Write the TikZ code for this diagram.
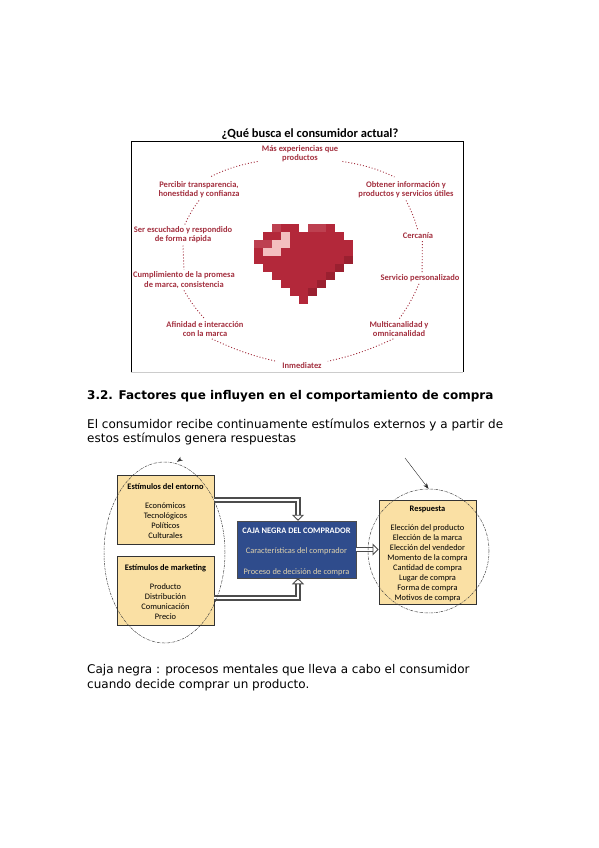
\documentclass[tikz,border=0pt]{standalone}
\usepackage{fontspec}
\setmainfont{DejaVu Sans}
\newfontfamily\carlito{Carlito}
\usepackage{xcolor}
\usetikzlibrary{positioning, arrows.meta, shapes.geometric}
\definecolor{rojotxt}{HTML}{A3303F}
\definecolor{rojocor}{HTML}{B3283A}
\definecolor{rojoclaro}{HTML}{BD4050}
\definecolor{rojooscuro}{HTML}{9A2030}
\definecolor{rosacor}{HTML}{F3BFBF}
\definecolor{crema}{HTML}{FAE0A4}
\definecolor{azulcaja}{HTML}{2F4C8C}
\definecolor{cremaclaro}{HTML}{DDD0AC}
\newcommand{\titulocaja}[1]{\rule{0pt}{10pt}\textbf{#1}}
\tikzset{
	>={Stealth[length=2mm]},
	% texto del documento
	parrafo/.style={anchor=west, align=left, inner sep=0pt, font=\fontsize{12}{14.5}\selectfont},
	% etiqueta alrededor del corazon
	deseo/.style={align=center, inner sep=2pt, text=rojotxt, font=\carlito\bfseries\fontsize{8.5}{9.3}\selectfont},
	% union punteada entre etiquetas
	punteado/.style={rojotxt, line width=.9pt, dash pattern=on 1pt off 2pt},
	% caja de estimulos o respuesta
	caja/.style={draw=black!80, line width=.9pt, fill=crema, inner sep=0pt, align=center, minimum width=97pt,
	             font=\carlito\fontsize{8.4}{10}\selectfont},
	% caja central
	cajanegra/.style={draw=black!70, line width=.5pt, fill=azulcaja, inner sep=0pt, align=center,
	                  minimum width=119pt, minimum height=57pt, text=cremaclaro,
	                  font=\carlito\fontsize{8.4}{10}\selectfont},
	% flecha hueca
	hueca/.style={draw=black!70, line width=1.2pt, double=white, double distance=2.8pt,
	              -{Triangle[open, fill=white, length=6pt, width=12pt, line width=.9pt]}},
	% ovalo a mano
	ovalo/.style={draw=black!75, ellipse, line width=.5pt, dash pattern=on 2.5pt off 1pt on .6pt off 1pt},
}
\begin{document}
\begin{tikzpicture}[x=1pt, y=-1pt]
    \useasboundingbox (0,0) rectangle (599,848);
    % primera figura
    \node[font=\carlito\bfseries\fontsize{12.5}{14}\selectfont, inner sep=0pt] (titulo) at (310,134.5) {¿Qué busca el consumidor actual?};
    \draw[black, line width=.7pt] (131,372) -- (131,141) -- (463,141) -- (463,372);
    \draw[black!20, line width=.7pt] (131,372) -- (463,372);
    \node[deseo] (mas) at (300,154) {Más experiencias que\\ productos};
    \node[deseo] (obtener) at (406,190) {Obtener información y\\ productos y servicios útiles};
    \node[deseo] (percibir) at (199,190) {Percibir transparencia,\\ honestidad y confianza};
    \node[deseo] (ser) at (183,235) {Ser escuchado y respondido\\ de forma rápida};
    \node[deseo] (cercania) at (418,236) {Cercanía};
    \node[deseo] (cumplimiento) at (184,280) {Cumplimiento de  la promesa\\ de marca, consistencia};
    \node[deseo] (servicio) at (420,278) {Servicio personalizado};
    \node[deseo] (afinidad) at (205,329) {Afinidad e interacción\\ con la marca};
    \node[deseo] (multi) at (399,329) {Multicanalidad y\\ omnicanalidad};
    \node[deseo] (inmediatez) at (302,366) {Inmediatez};
    \draw[punteado, shorten <=2pt, shorten >=6pt] (mas.190) to[bend right=8] (percibir.60);
    \draw[punteado, shorten <=2pt, shorten >=6pt] (mas.-10) to[bend left=8] (obtener.120);
    \draw[punteado] (percibir.south) to[bend right=6] (ser.80);
    \draw[punteado] (obtener.south) to[bend left=6] (cercania.north);
    \draw[punteado] (ser.south) to (cumplimiento.north);
    \draw[punteado] (cercania.-50) to (servicio.70);
    \draw[punteado] (cumplimiento.south) to[bend right=6] (afinidad.north);
    \draw[punteado] (servicio.-100) to[bend left=6] (multi.north);
    \draw[punteado, shorten >=4pt] (afinidad.-55) to[bend right=6] (inmediatez.170);
    \draw[punteado, shorten >=4pt] (multi.-120) to[bend left=6] (inmediatez.10);
    % corazon
    \begin{scope}[shift={(253.5,223.5)}]
      \foreach \fila/\ini/\fin in {0/2/5, 0/6/9, 1/1/10, 2/0/11, 3/0/11, 4/0/11, 5/1/10, 6/2/9, 7/3/8, 8/4/7, 9/5/6}
        \fill[rojocor] (9*\ini,8*\fila) rectangle (9*\fin,8*\fila+8);
      \foreach \fila/\ini/\fin in {0/6/8, 2/0/2, 0/2/3}
        \fill[rojoclaro] (9*\ini,8*\fila) rectangle (9*\fin,8*\fila+8);
      \foreach \fila/\ini/\fin in {4/10/11, 5/9/10, 6/8/9, 7/7/8, 8/6/7}
        \fill[rojooscuro] (9*\ini,8*\fila) rectangle (9*\fin,8*\fila+8);
      \foreach \fila/\ini/\fin in {1/3/4, 2/2/4, 3/1/3}
        \fill[rosacor] (9*\ini,8*\fila) rectangle (9*\fin,8*\fila+8);
    \end{scope}
    % texto
    \node[parrafo, font=\bfseries\fontsize{12}{14}\selectfont] (seccion) at (87,396) {3.2. Factores que influyen en el comportamiento de compra};
    \node[parrafo] (intro) at (87,432) {El consumidor recibe continuamente estímulos externos y a partir de\\ estos estímulos genera respuestas};
    \node[parrafo] (cierre) at (87,677.5) {Caja negra : procesos mentales que lleva a cabo el consumidor\\ cuando decide comprar un producto.};
    % segunda figura
    \node[caja, minimum height=69pt] (entorno) at (165.5,509.5) {\titulocaja{Estímulos del entorno}\\[9pt] Económicos\\ Tecnológicos\\ Políticos\\ Culturales};
    \node[caja, minimum height=69pt] (marketing) at (165.5,590.5) {\titulocaja{Estímulos de marketing}\\[9pt] Producto\\ Distribución\\ Comunicación\\ Precio};
    \node[cajanegra] (comprador) at (296.5,549.5) {\textcolor{white}{\titulocaja{CAJA NEGRA DEL COMPRADOR}}\\[10.5pt] Características del comprador\\[10.5pt] Proceso de decisión de compra};
    \node[caja, minimum height=104pt] (respuesta) at (427.5,552) {\titulocaja{Respuesta}\\[9pt] Elección del producto\\ Elección de la marca\\ Elección del vendedor\\ Momento de la compra\\ Cantidad de compra\\ Lugar de compra\\ Forma de compra\\ Motivos de compra};
    \draw[hueca] (entorno.east |- 0,500) -| (comprador.north -| 298,0);
    \draw[hueca] (marketing.east |- 0,598) -| (comprador.south -| 298,0);
    \draw[hueca] (comprador.east |- 0,549.5) -- (respuesta.west |- 0,549.5);
    \node[ovalo, minimum width=121pt, minimum height=181pt] (ovaloizq) at (164.5,552.5) {};
    \node[ovalo, minimum width=121pt, minimum height=124pt] (ovaloder) at (428.5,551) {};
    \coordinate (origenizq) at (181,459);
    \coordinate (origender) at (405,458);
    \draw[->, black!80] (origenizq) -- (ovaloizq.north -| 177,0);
    \draw[->, black!85] (origender) -- (ovaloder.north);
\end{tikzpicture}
\end{document}
